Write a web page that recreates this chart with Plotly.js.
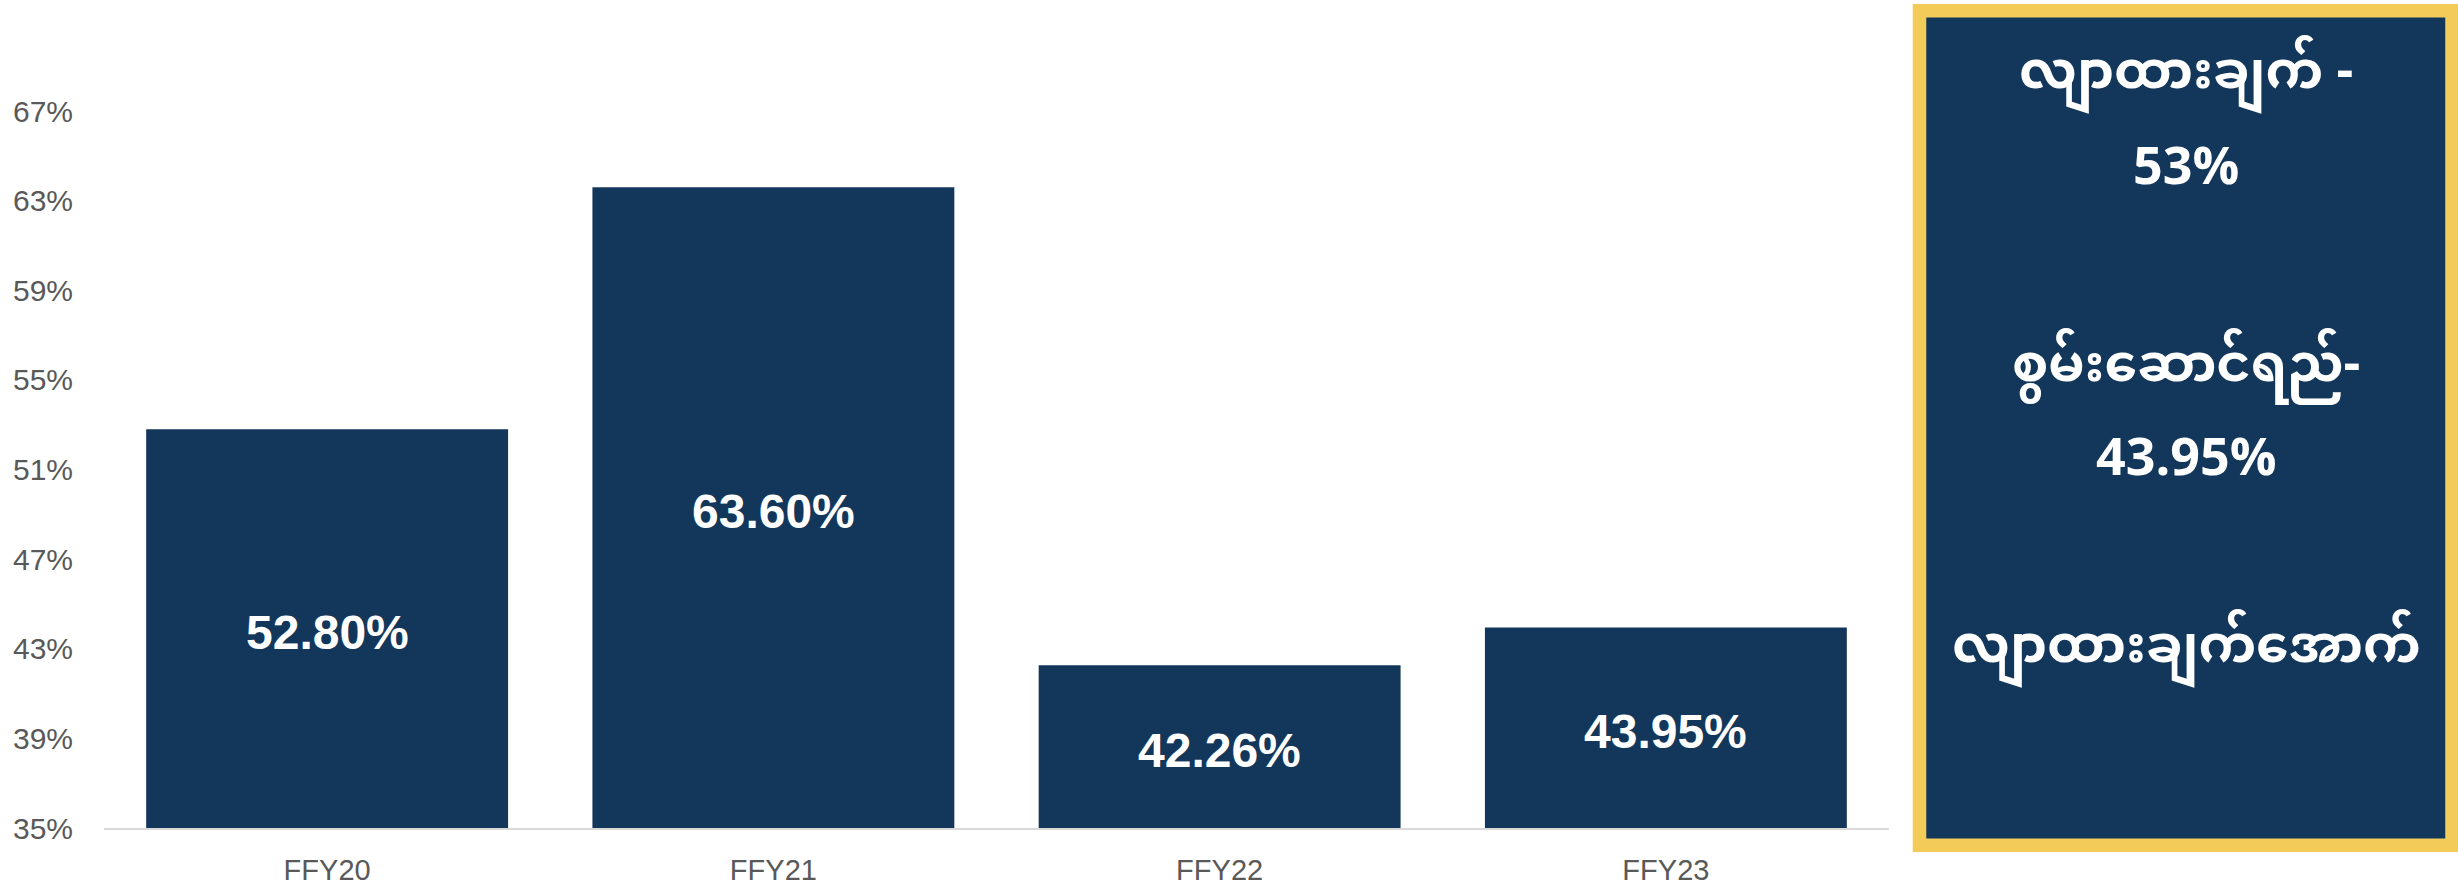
<!DOCTYPE html>
<html>
<head>
<meta charset="utf-8">
<script src="https://cdn.plot.ly/plotly-3.0.1.min.js"></script>
<style>
  html, body { margin: 0; padding: 0; background: #ffffff; }
  #chart { width: 2458px; height: 885px; }
</style>
</head>
<body>
<div id="chart"></div>
<script>
// ---- data ----
const categories = ["FFY20", "FFY21", "FFY22", "FFY23"];
const values = [52.80, 63.60, 42.26, 43.95];
const valueLabels = ["52.80%", "63.60%", "42.26%", "43.95%"];
const yTickVals = [35, 39, 43, 47, 51, 55, 59, 63, 67];
const yTickText = ["35%", "39%", "43%", "47%", "51%", "55%", "59%", "63%", "67%"];
const boxLines = ["လျာထားချက် -", "53%", "စွမ်းဆောင်ရည်-", "43.95%", "လျာထားချက်အောက်"];

// ---- layout geometry (pixels) ----
const W = 2458, H = 885;
const mL = 104, mR = W - 1889, mT = 111, mB = H - 828;
const plotW = W - mL - mR, plotH = H - mT - mB;
const px2x = p => (p - mL) / plotW;
const px2y = p => (H - mB - p) / plotH;
const yRange = [35, 67];

const navy = "#13375B";
const gold = "#F3CB58";
const myFont = "'Noto Sans Myanmar', 'Padauk', 'Myanmar Text', 'Noto Sans', sans-serif";
const arial = "Arial, 'Liberation Sans', sans-serif";

const boxY = [76, 172, 369, 463, 650];
const boxAnnotations = boxLines.map((t, i) => ({
  text: "<b>" + t + "</b>",
  xref: "paper", yref: "paper",
  x: px2x(2186), y: px2y(boxY[i]),
  xanchor: "center", yanchor: "middle",
  showarrow: false,
  font: { family: myFont, size: 52, color: "#ffffff" }
}));

// bar value labels centred in the visible part of each bar
const barAnnotations = categories.map((c, i) => ({
  text: "<b>" + valueLabels[i] + "</b>",
  xref: "x", yref: "y",
  x: c, y: (yRange[0] + values[i]) / 2,
  xanchor: "center", yanchor: "middle",
  yshift: -4,
  showarrow: false,
  font: { family: arial, size: 48, color: "#ffffff" }
}));

const trace = {
  type: "bar",
  x: categories,
  y: values,
  marker: { color: navy, line: { width: 0 } },
  hoverinfo: "skip"
};

const layout = {
  width: W, height: H,
  margin: { l: mL, r: mR, t: mT, b: mB, pad: 0 },
  paper_bgcolor: "#ffffff",
  plot_bgcolor: "#ffffff",
  showlegend: false,
  bargap: 0.189,
  xaxis: {
    type: "category",
    showgrid: false,
    zeroline: false,
    showline: true,
    linecolor: "#D9D9D9",
    linewidth: 2,
    ticks: "",
    ticklabelstandoff: 15,
    tickfont: { family: arial, size: 29, color: "#595959" }
  },
  yaxis: {
    range: yRange,
    tickmode: "array",
    tickvals: yTickVals,
    ticktext: yTickText,
    showgrid: false,
    zeroline: false,
    showline: false,
    ticks: "outside",
    ticklen: 24,
    tickcolor: "rgba(0,0,0,0)",
    tickfont: { family: arial, size: 30, color: "#595959" }
  },
  shapes: [{
    type: "rect",
    xref: "paper", yref: "paper",
    x0: px2x(1919.5), x1: px2x(2452),
    y0: px2y(845.3), y1: px2y(10.7),
    fillcolor: navy,
    line: { color: gold, width: 13.5 },
    layer: "above"
  }],
  annotations: barAnnotations.concat(boxAnnotations)
};

Plotly.newPlot("chart", [trace], layout, { displayModeBar: false, staticPlot: true });
</script>
</body>
</html>
